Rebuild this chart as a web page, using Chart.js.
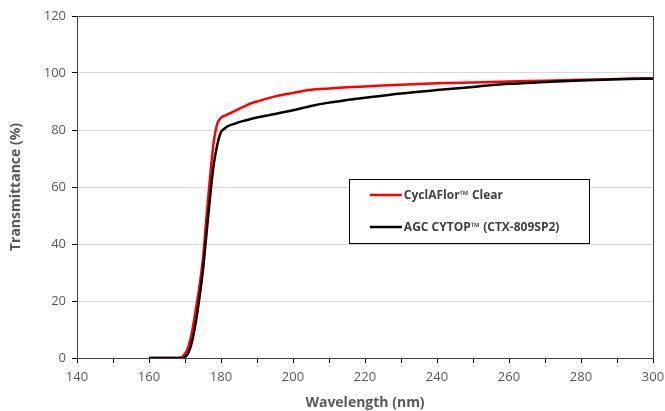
<!DOCTYPE html>
<html lang="en">
  <head>
    <meta charset="utf-8" />
    <title>Transmittance vs Wavelength</title>
    <style>
      html, body { margin: 0; padding: 0; background: #fff; }
      #wrap { width: 665px; height: 411px; }
    </style>
  </head>
  <body>
    <div id="wrap"><canvas id="transChart" width="665" height="411"></canvas></div>

    <script src="https://cdn.jsdelivr.net/npm/chart.js"></script>
    <script>
      // wavelengths (nm) shared by both curves
      const wavelengths = [160, 165, 168, 169, 170, 171, 172, 173, 174, 175, 176, 177, 178, 179, 180,
        181, 182, 184, 186, 188, 190, 195, 200, 205, 210, 215, 220, 230, 240, 250, 260, 270, 280, 290, 300];

      // transmittance (%)
      const cyclaflor = [0, 0, 0, 0.2, 1.5, 4.2, 9.5, 17, 25, 35, 50, 64, 76, 82.3, 84.3,
        85.0, 85.6, 86.8, 88.0, 89.2, 90.0, 91.8, 93.0, 94.1, 94.6, 95.0, 95.3, 95.9, 96.4, 96.7, 97.0, 97.3, 97.6, 97.9, 98.2];
      const cytop = [0, 0, 0, 0, 0.3, 2, 6, 12.5, 21, 31, 44, 57, 68, 75, 79.3,
        80.5, 81.4, 82.3, 83.1, 83.8, 84.4, 85.6, 86.9, 88.4, 89.6, 90.5, 91.3, 92.8, 94.0, 95.1, 96.2, 96.8, 97.4, 97.8, 98.0];

      const seriesLabels = ['CyclAFlor\u2122 Clear', 'AGC CYTOP\u2122 (CTX-809SP2)'];
      const seriesColors = ['#ff0000', '#000000'];

      const xTicks = { min: 140, max: 300, step: 10, labelEvery: 20 };
      const yTicks = { min: 0, max: 120, step: 20 };

      const textColor = '#595959';
      const fontFamily = '"Open Sans", "Liberation Sans", sans-serif';

      function toPoints(xs, ys) {
        return xs.map((x, i) => ({ x: x, y: ys[i] }));
      }

      // frame round the plot area and the boxed legend inside it
      const framePlugin = {
        id: 'frameAndLegend',
        afterDraw(chart) {
          const ctx = chart.ctx;
          const a = chart.chartArea;
          ctx.save();
          ctx.strokeStyle = '#404040';
          ctx.lineWidth = 1;
          ctx.strokeRect(a.left + 0.5, a.top + 0.5, a.right - a.left, a.bottom - a.top);

          // legend box
          const w = a.right - a.left, h = a.bottom - a.top;
          const bx = a.left + w * 0.472, by = a.top + h * 0.477;
          const bw = w * 0.417, bh = h * 0.187;
          ctx.fillStyle = '#fff';
          ctx.fillRect(bx, by, bw, bh);
          ctx.strokeStyle = '#000';
          ctx.strokeRect(Math.round(bx) + 0.5, Math.round(by) + 0.5, Math.round(bw), Math.round(bh));

          ctx.font = 'bold 12px ' + fontFamily;
          ctx.textBaseline = 'middle';
          seriesLabels.forEach((label, i) => {
            const ly = by + bh * (0.25 + i * 0.5);
            ctx.strokeStyle = seriesColors[i];
            ctx.lineWidth = 2.5;
            ctx.beginPath();
            ctx.moveTo(bx + 21, ly);
            ctx.lineTo(bx + 53, ly);
            ctx.stroke();
            ctx.fillStyle = '#404040';
            ctx.fillText(label, bx + 55, ly);
          });
          ctx.restore();
        }
      };

      // black is listed first so it is painted on top of the red curve
      const datasets = seriesLabels.map((label, i) => ({
        label: label,
        data: toPoints(wavelengths, i === 0 ? cyclaflor : cytop),
        showLine: true,
        borderColor: seriesColors[i],
        backgroundColor: seriesColors[i],
        borderWidth: 2.5,
        pointRadius: 0,
        cubicInterpolationMode: 'monotone'
      })).reverse();

      new Chart(document.getElementById('transChart'), {
        type: 'scatter',
        data: { datasets: datasets },
        options: {
          responsive: false,
          animation: false,
          layout: { padding: { top: 16, right: 12, left: 0, bottom: 0 } },
          plugins: {
            legend: { display: false },
            tooltip: { enabled: false }
          },
          scales: {
            x: {
              type: 'linear',
              min: xTicks.min,
              max: xTicks.max,
              afterFit(scale) {
                scale.height = 53;
                scale.paddingRight = 0;
              },
              ticks: {
                stepSize: xTicks.step,
                padding: 6,
                color: textColor,
                font: { family: fontFamily, size: 13 },
                maxRotation: 0,
                autoSkip: false,
                callback: v => (v % xTicks.labelEvery === 0 ? v : '')
              },
              grid: {
                drawOnChartArea: false,
                drawTicks: true,
                tickLength: 5,
                tickColor: '#000'
              },
              border: { color: '#000', width: 1 },
              title: {
                display: true,
                text: 'Wavelength (nm)',
                color: textColor,
                font: { family: fontFamily, size: 14, weight: 'bold' },
                padding: { top: 0, bottom: 0 }
              }
            },
            y: {
              min: yTicks.min,
              max: yTicks.max,
              afterFit(scale) { scale.width = 77; },
              ticks: {
                stepSize: yTicks.step,
                padding: 6,
                color: textColor,
                font: { family: fontFamily, size: 13 }
              },
              grid: {
                color: '#d9d9d9',
                tickColor: '#000',
                tickLength: 5
              },
              border: { color: '#000', width: 1 },
              title: {
                display: true,
                text: 'Transmittance (%)',
                color: textColor,
                font: { family: fontFamily, size: 14, weight: 'bold' },
                padding: { top: 8, bottom: 0 }
              }
            }
          }
        },
        plugins: [framePlugin]
      });
    </script>
  </body>
</html>
